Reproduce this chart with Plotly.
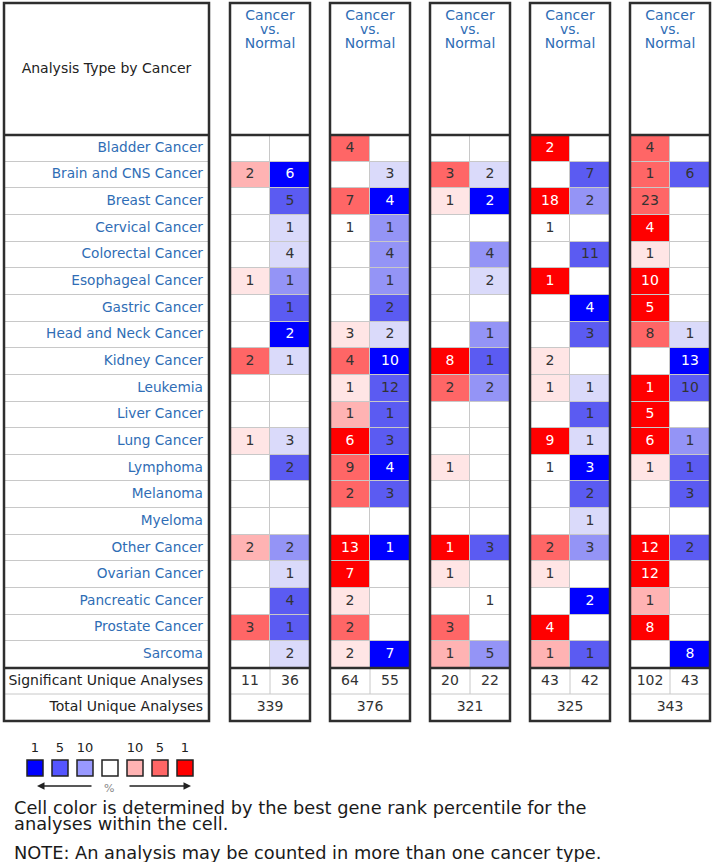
import plotly.graph_objects as go

# ---------------- data ----------------
cancers = ["Bladder Cancer", "Brain and CNS Cancer", "Breast Cancer", "Cervical Cancer",
           "Colorectal Cancer", "Esophageal Cancer", "Gastric Cancer", "Head and Neck Cancer",
           "Kidney Cancer", "Leukemia", "Liver Cancer", "Lung Cancer", "Lymphoma", "Melanoma",
           "Myeloma", "Other Cancer", "Ovarian Cancer", "Pancreatic Cancer", "Prostate Cancer",
           "Sarcoma"]
panel_title = ["Cancer", "vs.", "Normal"]
N = None

# counts of analyses (over-expressed = red column, under-expressed = blue column)
up_counts_1 = [N, 2, N, N, N, 1, N, N, 2, N, N, 1, N, N, N, 2, N, N, 3, N]
dn_counts_1 = [N, 6, 5, 1, 4, 1, 1, 2, 1, N, N, 3, 2, N, N, 2, 1, 4, 1, 2]
up_counts_2 = [4, N, 7, 1, N, N, N, 3, 4, 1, 1, 6, 9, 2, N, 13, 7, 2, 2, 2]
dn_counts_2 = [N, 3, 4, 1, 4, 1, 2, 2, 10, 12, 1, 3, 4, 3, N, 1, N, N, N, 7]
up_counts_3 = [N, 3, 1, N, N, N, N, N, 8, 2, N, N, 1, N, N, 1, 1, N, 3, 1]
dn_counts_3 = [N, 2, 2, N, 4, 2, N, 1, 1, 2, N, N, N, N, N, 3, N, 1, N, 5]
up_counts_4 = [2, N, 18, 1, N, 1, N, N, 2, 1, N, 9, 1, N, N, 2, 1, N, 4, 1]
dn_counts_4 = [N, 7, 2, N, 11, N, 4, 3, N, 1, 1, 1, 3, 2, 1, 3, N, 2, N, 1]
up_counts_5 = [4, 1, 23, 4, 1, 10, 5, 8, N, 1, 5, 6, 1, N, N, 12, 12, 1, 8, N]
dn_counts_5 = [N, 6, N, N, N, N, N, 1, 13, 10, N, 1, 1, 3, N, 2, N, N, N, 8]

# best gene-rank percentile class of each cell: 1 = top 1%, 2 = 5%, 3 = 10%, 4 = weaker, 0 = none
up_level_1 = [0, 3, 0, 0, 0, 4, 0, 0, 2, 0, 0, 4, 0, 0, 0, 3, 0, 0, 2, 0]
dn_level_1 = [0, 1, 2, 4, 4, 3, 2, 1, 4, 0, 0, 4, 2, 0, 0, 3, 4, 2, 2, 4]
up_level_2 = [2, 0, 2, 0, 0, 0, 0, 4, 2, 4, 3, 1, 2, 2, 0, 1, 1, 4, 2, 4]
dn_level_2 = [0, 4, 1, 3, 3, 3, 2, 4, 1, 2, 2, 2, 1, 2, 0, 1, 0, 0, 0, 1]
up_level_3 = [0, 2, 4, 0, 0, 0, 0, 0, 1, 2, 0, 0, 4, 0, 0, 1, 4, 0, 2, 3]
dn_level_3 = [0, 4, 1, 0, 3, 4, 0, 3, 2, 3, 0, 0, 0, 0, 0, 2, 0, 0, 0, 3]
up_level_4 = [1, 0, 1, 0, 0, 1, 0, 0, 4, 4, 0, 1, 0, 0, 0, 2, 4, 0, 1, 3]
dn_level_4 = [0, 2, 3, 0, 2, 0, 1, 2, 0, 4, 2, 4, 1, 2, 4, 3, 0, 1, 0, 2]
up_level_5 = [2, 2, 2, 1, 4, 1, 1, 2, 0, 1, 1, 1, 4, 0, 0, 1, 1, 3, 1, 0]
dn_level_5 = [0, 2, 0, 0, 0, 0, 0, 4, 1, 2, 0, 3, 2, 2, 0, 2, 0, 0, 0, 1]

sig_up = [11, 64, 20, 43, 102]
sig_dn = [36, 55, 22, 42, 43]
total_analyses = [339, 376, 321, 325, 343]

legend_labels = ["1", "5", "10", "", "10", "5", "1"]

# ---------------- styling / layout constants ----------------
W, H = 714, 862
BLUE1, BLUE2, BLUE3, BLUE4 = "#0000FF", "#5B5BF2", "#9494F6", "#DADAFA"
RED1, RED2, RED3, RED4 = "#FF0000", "#FF6666", "#FFB3B3", "#FFE5E5"
palette = [BLUE1, BLUE2, BLUE3, BLUE4, "#FFFFFF", RED4, RED3, RED2, RED1]
legend_colors = [BLUE1, "#5555FF", "#9999FF", "#FFFFFF", "#FFB3B3", "#FF6666", RED1]
LINK = "#2F6DB5"
DARK = "#333333"
BORDER = "#2E2E2E"
GRID = "#C8C8C8"
FONT = "DejaVu Sans"

TOP = 3
HEAD_BOT = 135
NROW = len(cancers)
BODY_BOT = 668
RH = (BODY_BOT - HEAD_BOT) / NROW
SIG_BOT = 694
TOT_BOT = 721
LAB_L, LAB_R = 4, 209
PANEL_L = [230, 330, 430, 530, 630]
PW = 80
CW = PW / 2

up_counts = [up_counts_1, up_counts_2, up_counts_3, up_counts_4, up_counts_5]
dn_counts = [dn_counts_1, dn_counts_2, dn_counts_3, dn_counts_4, dn_counts_5]
up_level = [up_level_1, up_level_2, up_level_3, up_level_4, up_level_5]
dn_level = [dn_level_1, dn_level_2, dn_level_3, dn_level_4, dn_level_5]


def up_code(l):
    return 4 if l == 0 else 9 - l


def dn_code(l):
    return 4 if l == 0 else l - 1


colorscale = []
for i, c in enumerate(palette):
    colorscale.append([i / len(palette), c])
    colorscale.append([(i + 1) / len(palette), c])

fig = go.Figure()
shapes = []
row_y = [HEAD_BOT + RH * (i + 0.5) for i in range(NROW)]

# label column grid (white cells over grey background)
shapes.append(dict(type="rect", xref="x", yref="y", x0=LAB_L, x1=LAB_R, y0=HEAD_BOT, y1=BODY_BOT,
                   fillcolor=GRID, line=dict(width=0), layer="below"))
fig.add_trace(go.Heatmap(z=[[0] for _ in cancers], x0=(LAB_L + LAB_R) / 2, dx=LAB_R - LAB_L,
                         y0=HEAD_BOT + RH / 2, dy=RH, ygap=1, colorscale=[[0, "#FFFFFF"], [1, "#FFFFFF"]],
                         showscale=False, hoverinfo="skip"))

for p, left in enumerate(PANEL_L):
    shapes.append(dict(type="rect", xref="x", yref="y", x0=left, x1=left + PW, y0=HEAD_BOT, y1=BODY_BOT,
                       fillcolor=GRID, line=dict(width=0), layer="below"))
    z = [[up_code(up_level[p][r]), dn_code(dn_level[p][r])] for r in range(NROW)]
    fig.add_trace(go.Heatmap(z=z, x0=left + CW / 2, dx=CW, y0=HEAD_BOT + RH / 2, dy=RH,
                             xgap=1, ygap=1, zmin=-0.5, zmax=8.5, colorscale=colorscale,
                             showscale=False, hoverinfo="skip"))
    # numbers in cells
    xs, ys, ts, cs = [], [], [], []
    for r in range(NROW):
        for k, (cnt, lvl) in enumerate([(up_counts[p][r], up_level[p][r]), (dn_counts[p][r], dn_level[p][r])]):
            if cnt is None:
                continue
            xs.append(left + CW * (k + 0.5))
            ys.append(row_y[r])
            ts.append(str(cnt))
            cs.append("#FFFFFF" if lvl == 1 else DARK)
    # significant / total rows
    for k, v in enumerate([sig_up[p], sig_dn[p]]):
        xs.append(left + CW * (k + 0.5))
        ys.append((BODY_BOT + SIG_BOT) / 2)
        ts.append(str(v))
        cs.append(DARK)
    xs.append(left + PW / 2)
    ys.append((SIG_BOT + TOT_BOT) / 2)
    ts.append(str(total_analyses[p]))
    cs.append(DARK)
    fig.add_trace(go.Scatter(x=xs, y=ys, text=ts, mode="text", textposition="middle center",
                             textfont=dict(family=FONT, size=14, color=cs), hoverinfo="skip",
                             cliponaxis=False, showlegend=False))
    # header
    fig.add_trace(go.Scatter(x=[left + PW / 2] * 3, y=[16, 30, 44], text=panel_title, mode="text",
                             textposition="middle center", textfont=dict(family=FONT, size=14, color=LINK),
                             hoverinfo="skip", cliponaxis=False, showlegend=False))
    # frame lines
    shapes.append(dict(type="line", xref="x", yref="y", x0=left, x1=left + PW, y0=SIG_BOT, y1=SIG_BOT,
                       line=dict(color=GRID, width=1)))
    shapes.append(dict(type="line", xref="x", yref="y", x0=left + CW, x1=left + CW, y0=BODY_BOT, y1=SIG_BOT,
                       line=dict(color=GRID, width=1)))
    shapes.append(dict(type="line", xref="x", yref="y", x0=left, x1=left + PW, y0=HEAD_BOT, y1=HEAD_BOT,
                       line=dict(color=BORDER, width=2.5)))
    shapes.append(dict(type="line", xref="x", yref="y", x0=left, x1=left + PW, y0=BODY_BOT, y1=BODY_BOT,
                       line=dict(color=BORDER, width=2.5)))
    shapes.append(dict(type="rect", xref="x", yref="y", x0=left, x1=left + PW, y0=TOP, y1=TOT_BOT,
                       line=dict(color=BORDER, width=2.5)))

# label box frame
shapes.append(dict(type="line", xref="x", yref="y", x0=LAB_L, x1=LAB_R, y0=SIG_BOT, y1=SIG_BOT,
                   line=dict(color=GRID, width=1)))
shapes.append(dict(type="line", xref="x", yref="y", x0=LAB_L, x1=LAB_R, y0=HEAD_BOT, y1=HEAD_BOT,
                   line=dict(color=BORDER, width=2.5)))
shapes.append(dict(type="line", xref="x", yref="y", x0=LAB_L, x1=LAB_R, y0=BODY_BOT, y1=BODY_BOT,
                   line=dict(color=BORDER, width=2.5)))
shapes.append(dict(type="rect", xref="x", yref="y", x0=LAB_L, x1=LAB_R, y0=TOP, y1=TOT_BOT,
                   line=dict(color=BORDER, width=2.5)))

# row labels
fig.add_trace(go.Scatter(x=[LAB_R - 6] * NROW, y=row_y, text=cancers, mode="text",
                         textposition="middle left", textfont=dict(family=FONT, size=13.7, color=LINK),
                         hoverinfo="skip", cliponaxis=False, showlegend=False))
fig.add_trace(go.Scatter(x=[LAB_R - 6] * 2, y=[(BODY_BOT + SIG_BOT) / 2, (SIG_BOT + TOT_BOT) / 2],
                         text=["Significant Unique Analyses", "Total Unique Analyses"], mode="text",
                         textposition="middle left", textfont=dict(family=FONT, size=14, color="#222222"),
                         hoverinfo="skip", cliponaxis=False, showlegend=False))
fig.add_trace(go.Scatter(x=[(LAB_L + LAB_R) / 2], y=[(TOP + HEAD_BOT) / 2], text=["Analysis Type by Cancer"],
                         mode="text", textposition="middle center",
                         textfont=dict(family=FONT, size=14, color="#222222"),
                         hoverinfo="skip", cliponaxis=False, showlegend=False))

# colour legend
LEG_X0, LEG_DX, LEG_Y = 35, 25, 768
leg_x = [LEG_X0 + LEG_DX * i for i in range(len(legend_colors))]
fig.add_trace(go.Scatter(x=leg_x, y=[LEG_Y] * len(leg_x), mode="markers",
                         marker=dict(symbol="square", size=16, color=legend_colors,
                                     line=dict(color="#222222", width=1.5)),
                         hoverinfo="skip", cliponaxis=False, showlegend=False))
fig.add_trace(go.Scatter(x=leg_x, y=[LEG_Y - 19] * len(leg_x), text=legend_labels, mode="text",
                         textposition="middle center", textfont=dict(family=FONT, size=13, color="#222222"),
                         hoverinfo="skip", cliponaxis=False, showlegend=False))

annotations = [
    dict(x=leg_x[0] + 2, y=786, ax=leg_x[2] + 8, ay=786, xref="x", yref="y", axref="x", ayref="y",
         text="", showarrow=True, arrowhead=2, arrowsize=1, arrowwidth=1.5, arrowcolor="#222222"),
    dict(x=leg_x[6] + 6, y=786, ax=leg_x[4] - 7, ay=786, xref="x", yref="y", axref="x", ayref="y",
         text="", showarrow=True, arrowhead=2, arrowsize=1, arrowwidth=1.5, arrowcolor="#222222"),
    dict(x=leg_x[3] - 1, y=788, xref="x", yref="y", text="%", showarrow=False,
         font=dict(family=FONT, size=11, color="#888888")),
]
notes = [("Cell color is determined by the best gene rank percentile for the", 807),
         ("analyses within the cell.", 823),
         ("NOTE: An analysis may be counted in more than one cancer type.", 852)]
for txt, yy in notes:
    annotations.append(dict(x=12, y=yy, xref="x", yref="y", text=txt, showarrow=False,
                            xanchor="left", yanchor="middle",
                            font=dict(family=FONT, size=17.8, color="#1A1A1A")))

fig.update_layout(
    width=W, height=H, margin=dict(l=0, r=0, t=0, b=0),
    paper_bgcolor="white", plot_bgcolor="white",
    xaxis=dict(range=[0, W], visible=False, fixedrange=True),
    yaxis=dict(range=[H, 0], visible=False, fixedrange=True),
    shapes=shapes, annotations=annotations, showlegend=False,
)

fig.write_html("out.html", config={"displayModeBar": False},
               post_script="document.body.style.margin='0';document.body.style.overflow='hidden';")
